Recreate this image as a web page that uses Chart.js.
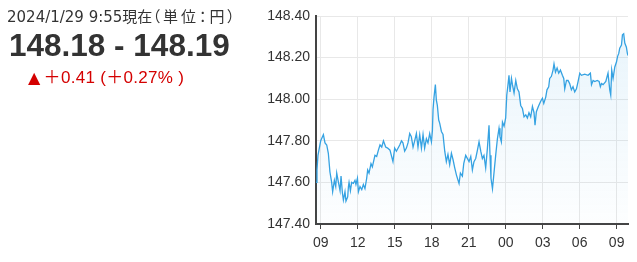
<!DOCTYPE html>
<html>
<head>
<meta charset="utf-8">
<script src="https://cdn.jsdelivr.net/npm/chart.js@4"></script>
<style>
  body { margin: 0; background: #fff; }
  #wrap { position: relative; width: 637px; height: 262px; overflow: hidden; }
  #chart { position: absolute; left: 0; top: 0; }
  .txt { position: absolute; white-space: nowrap; line-height: 1; }
  #stamp { left: 7px; top: 5px; font: 15px "DejaVu Sans", "Noto Sans CJK JP", sans-serif; color: #333; }
  #stamp .unit { font-feature-settings: "palt"; letter-spacing: 3px; }
  #price { left: 9px; top: 27px; font: bold 31.5px "Liberation Sans", Arial, sans-serif; color: #333; }
  #change { left: 28px; top: 63px; font: 17px "Liberation Sans", Arial, sans-serif; color: #d40000; letter-spacing: 0.3px; }
  #change .tri { font: 16px "DejaVu Sans", sans-serif; margin-right: 3px; }
  #change .cjk { font-family: "Noto Sans CJK JP", sans-serif; }
</style>
</head>
<body>
<div id="wrap">
  <canvas id="chart" width="637" height="262"></canvas>
  <div class="txt" id="stamp">2024/1/29 9:55現在<span class="unit">（単位：円）</span></div>
  <div class="txt" id="price">148.18 - 148.19</div>
  <div class="txt" id="change"><span class="tri">▲</span><span class="cjk">＋</span>0.41 (<span class="cjk">＋</span>0.27% )</div>
</div>
<script>
// hours counted from 0:00 on the first day (24 = midnight, 33 = 9:00 next day)
const times = [
  8.62, 8.70, 8.78, 8.81, 9.00, 9.22, 9.35, 9.49, 9.62, 9.75, 9.89, 9.97,
  10.11, 10.22, 10.30, 10.44, 10.57, 10.65, 10.76, 10.84, 10.97, 11.05, 11.19, 11.25,
  11.30, 11.41, 11.51, 11.65, 11.78, 11.86, 11.98, 12.06, 12.19, 12.33, 12.46, 12.59,
  12.73, 12.81, 12.92, 13.08, 13.19, 13.40, 13.54, 13.68, 13.81, 13.95, 14.09, 14.27,
  14.43, 14.62, 14.86, 15.00, 15.14, 15.41, 15.55, 15.67, 15.81, 15.95, 16.08, 16.22,
  16.35, 16.49, 16.62, 16.76, 16.89, 17.03, 17.17, 17.30, 17.43, 17.57, 17.70, 17.84,
  17.98, 18.06, 18.11, 18.19, 18.30, 18.38, 18.46, 18.57, 18.65, 18.79, 18.92, 19.06,
  19.19, 19.32, 19.46, 19.60, 19.73, 19.87, 20.01, 20.14, 20.22, 20.33, 20.49, 20.60,
  20.76, 21.03, 21.17, 21.30, 21.43, 21.57, 21.71, 21.84, 21.98, 22.11, 22.24, 22.38,
  22.52, 22.65, 22.73, 22.81, 22.93, 23.06, 23.19, 23.33, 23.46, 23.54, 23.65, 23.74,
  23.87, 24.00, 24.09, 24.17, 24.27, 24.35, 24.47, 24.55, 24.68, 24.82, 24.95, 25.08,
  25.22, 25.36, 25.49, 25.63, 25.76, 25.89, 26.03, 26.17, 26.30, 26.38, 26.49, 26.65,
  26.84, 26.98, 27.09, 27.25, 27.35, 27.49, 27.57, 27.71, 27.84, 27.92, 28.04, 28.17,
  28.30, 28.44, 28.60, 28.71, 28.79, 28.93, 29.06, 29.19, 29.33, 29.46, 29.60, 29.74,
  29.87, 30.01, 30.14, 30.41, 30.68, 30.87, 30.96, 31.09, 31.23, 31.42, 31.58, 31.68,
  31.77, 31.90, 32.12, 32.30, 32.44, 32.52, 32.60, 32.71, 32.85, 32.99, 33.07, 33.17,
  33.25, 33.39, 33.47, 33.57, 33.66, 33.79, 33.87, 33.92
];
const rates = [
  147.60, 147.66, 147.73, 147.74, 147.80, 147.83, 147.79, 147.78, 147.74, 147.65, 147.60, 147.555,
  147.61, 147.58, 147.645, 147.60, 147.56, 147.63, 147.55, 147.515, 147.555, 147.51, 147.53, 147.58,
  147.60, 147.56, 147.60, 147.595, 147.61, 147.59, 147.62, 147.555, 147.58, 147.565, 147.59, 147.57,
  147.62, 147.66, 147.645, 147.69, 147.675, 147.73, 147.725, 147.755, 147.78, 147.77, 147.80, 147.77,
  147.765, 147.755, 147.70, 147.765, 147.75, 147.78, 147.80, 147.79, 147.75, 147.765, 147.79, 147.835,
  147.82, 147.77, 147.80, 147.835, 147.77, 147.83, 147.765, 147.83, 147.765, 147.81, 147.79, 147.835,
  147.795, 147.85, 147.95, 148.01, 148.07, 147.995, 147.97, 147.90, 147.885, 147.845, 147.83, 147.75,
  147.70, 147.735, 147.685, 147.74, 147.71, 147.67, 147.635, 147.61, 147.595, 147.645, 147.63, 147.69,
  147.73, 147.70, 147.725, 147.66, 147.70, 147.715, 147.755, 147.795, 147.75, 147.715, 147.73, 147.67,
  147.765, 147.875, 147.73, 147.62, 147.57, 147.65, 147.73, 147.81, 147.86, 147.82, 147.795, 147.89,
  147.87, 147.91, 148.02, 148.06, 148.115, 148.035, 148.10, 148.07, 148.03, 148.09, 148.05, 148.035,
  147.97, 147.955, 147.915, 147.925, 147.91, 147.935, 147.915, 147.965, 147.935, 147.875, 147.94, 147.965,
  147.99, 148.005, 147.98, 148.01, 148.045, 148.06, 148.10, 148.11, 148.14, 148.17, 148.13, 148.15,
  148.125, 148.14, 148.115, 148.10, 148.05, 148.09, 148.09, 148.075, 148.045, 148.06, 148.035, 148.05,
  148.085, 148.125, 148.115, 148.12, 148.115, 148.125, 148.07, 148.09, 148.085, 148.09, 148.085, 148.06,
  148.075, 148.07, 148.085, 148.125, 148.045, 148.02, 148.14, 148.10, 148.155, 148.18, 148.205, 148.22,
  148.245, 148.26, 148.31, 148.315, 148.27, 148.25, 148.22, 148.21
];
const hourTicks = [9, 12, 15, 18, 21, 24, 27, 30, 33];
const yMin = 147.40, yMax = 148.40, yStep = 0.20;

const axisFont = { family: '"Liberation Sans", Arial, sans-serif', size: 14 };

function fillGradient(context) {
  const area = context.chart.chartArea;
  if (!area) return 'rgba(59,163,224,0.06)';
  const g = context.chart.ctx.createLinearGradient(0, area.top, 0, area.bottom);
  g.addColorStop(0, 'rgba(59,163,224,0.12)');
  g.addColorStop(1, 'rgba(59,163,224,0.01)');
  return g;
}

new Chart(document.getElementById('chart'), {
  type: 'line',
  data: {
    datasets: [{
      data: times.map((t, i) => ({ x: t, y: rates[i] })),
      borderColor: '#35a2e2',
      borderWidth: 1.3,
      pointRadius: 0,
      tension: 0,
      fill: 'start',
      backgroundColor: fillGradient
    }]
  },
  options: {
    responsive: false,
    animation: false,
    layout: { padding: { top: 16, right: 9 } },
    plugins: { legend: { display: false }, tooltip: { enabled: false } },
    scales: {
      x: {
        type: 'linear',
        min: 8.62,
        max: 33.92,
        afterBuildTicks: s => { s.ticks = hourTicks.map(v => ({ value: v })); },
        afterFit: s => { s.height = 38; },
        grid: { color: '#e8e8e8', tickColor: '#444', tickLength: 5 },
        border: { color: '#444', width: 2 },
        ticks: {
          font: axisFont, color: '#333', padding: 6, maxRotation: 0, autoSkip: false,
          callback: v => String(v % 24).padStart(2, '0')
        }
      },
      y: {
        min: yMin,
        max: yMax,
        afterFit: s => { s.width = 316; },
        grid: { color: '#e8e8e8', drawTicks: false },
        border: { color: '#444', width: 2 },
        ticks: {
          font: axisFont, color: '#333', padding: 6, stepSize: yStep,
          callback: v => v.toFixed(2)
        }
      }
    }
  }
});
</script>
</body>
</html>
